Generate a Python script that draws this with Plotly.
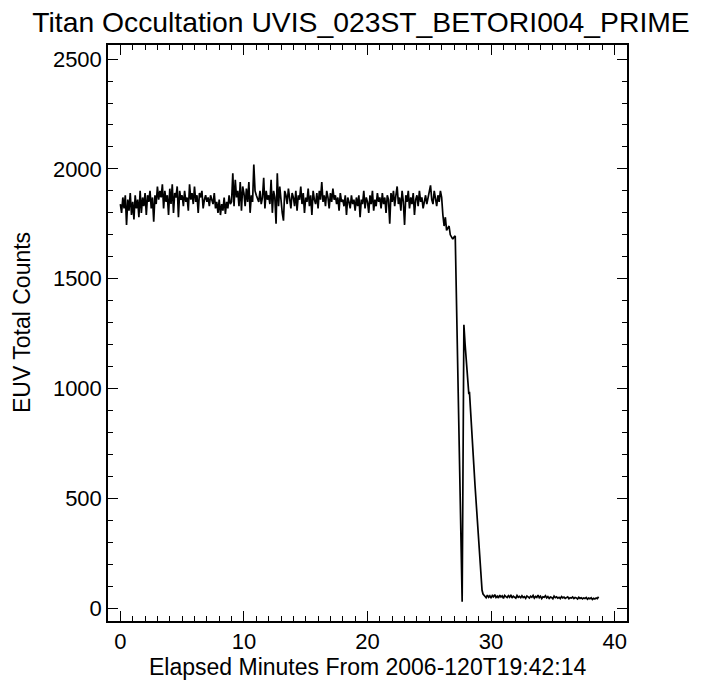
import numpy as np
import plotly.graph_objects as go

# Baseline (unocculted) counts, sampled every 0.1 min from 0.0 to 27.1
base_counts = [
    1840, 1800, 1870, 1820, 1880, 1745, 1860, 1810, 1890, 1790,
    1850, 1770, 1880, 1820, 1860, 1780, 1900, 1800, 1870, 1830,
    1890, 1790, 1880, 1850, 1900, 1820, 1870, 1760, 1880, 1840,
    1920, 1860, 1900, 1870, 1930, 1820, 1900, 1850, 1880, 1790,
    1910, 1840, 1930, 1800, 1890, 1870, 1920, 1780, 1900, 1860,
    1880, 1830, 1900, 1850, 1870, 1810, 1930, 1860, 1890, 1840,
    1920, 1850, 1880, 1800, 1890, 1870, 1900, 1820, 1860, 1880,
    1850, 1870, 1830, 1880, 1860, 1840, 1890, 1820, 1850, 1800,
    1860, 1790, 1840, 1810, 1870, 1795, 1850, 1820, 1880, 1840,
    1850, 1980, 1830, 1950, 1870, 1900, 1830, 1940, 1810, 1920,
    1890, 1830, 1910, 1850, 1940, 1800, 1880, 1850, 2020, 1900,
    1880, 1860, 1850, 1900, 1840, 1870, 1960, 1820, 1900, 1860,
    1880, 1840, 1950, 1800, 1900, 1870, 1750, 1980, 1830, 1920,
    1850, 1800, 1764, 1900, 1880, 1840, 1910, 1870, 1820, 1890,
    1870, 1830, 1900, 1810, 1880, 1860, 1920, 1840, 1890, 1800,
    1870, 1850, 1910, 1830, 1880, 1790, 1900, 1860, 1840, 1890,
    1820, 1900, 1860, 1940, 1850, 1880, 1830, 1900, 1870, 1820,
    1890, 1850, 1910, 1860, 1880, 1840, 1870, 1810, 1890, 1850,
    1860, 1830, 1880, 1790, 1870, 1850, 1820, 1880, 1840, 1860,
    1810, 1870, 1830, 1880, 1780, 1860, 1840, 1900, 1820, 1870,
    1850, 1800, 1880, 1840, 1900, 1810, 1860, 1830, 1890, 1850,
    1870, 1820, 1890, 1840, 1870, 1800, 1880, 1860, 1750, 1890,
    1850, 1900, 1830, 1880, 1920, 1840, 1870, 1810, 1900, 1850,
    1745, 1880, 1850, 1900, 1820, 1870, 1840, 1890, 1790, 1860,
    1880, 1830, 1900, 1850, 1870, 1820, 1860, 1880, 1840, 1870,
    1890, 1925, 1860, 1840, 1900, 1870, 1830, 1880, 1850, 1900,
    1870, 1790, 1740, 1780, 1720, 1730, 1740, 1700, 1690, 1680,
    1690, 1695,
]
base_start_min = 0.0
sample_step_min = 0.1

# Occultation ingress (irregularly spaced samples)
ingress_minutes = [27.66, 27.8, 27.9, 28.0, 28.1, 28.2, 28.25, 28.3, 28.36, 28.4,
                   28.5, 28.6, 28.7, 28.8, 28.9, 29.0, 29.1, 29.2, 29.27, 29.35, 29.4]
ingress_counts = [30, 1290, 1200, 1110, 1030, 975, 985, 930, 860, 850,
                  760, 655, 560, 470, 385, 300, 210, 135, 82, 65, 60]

# Fully occulted tail, sampled every 0.1 min from 29.5
tail_start_min = 29.5
tail_counts = [
    55, 48, 60, 50, 57, 46, 58, 52, 62, 49,
    55, 47, 60, 51, 56, 45, 58, 53, 49, 57,
    50, 61, 47, 55, 52, 46, 58, 50, 54, 48,
    57, 49, 53, 45, 56, 51, 47, 55, 50, 58,
    46, 54, 49, 60, 48, 55, 44, 52, 50, 57,
    47, 53, 45, 51, 49, 43, 55, 48, 52, 46,
    50, 44, 53, 47, 51, 45, 49, 52, 43, 48,
    46, 51, 44, 49, 47, 42, 50, 45, 48, 43,
    47, 44, 49, 41, 46, 43, 48, 40, 45, 42,
    47, 44, 52,
]

title_text = "Titan Occultation UVIS_023ST_BETORI004_PRIME"
x_title = "Elapsed Minutes From 2006-120T19:42:14"
y_title = "EUV Total Counts"

t_base = base_start_min + sample_step_min * np.arange(len(base_counts))
t_tail = tail_start_min + sample_step_min * np.arange(len(tail_counts))
t = np.concatenate([t_base, np.array(ingress_minutes), t_tail])
c = np.concatenate([np.array(base_counts), np.array(ingress_counts), np.array(tail_counts)])

font_family = "Liberation Sans, Arial, Helvetica, sans-serif"

fig = go.Figure(go.Scatter(x=t, y=c, mode="lines",
                           line=dict(color="black", width=1.7),
                           hoverinfo="x+y", showlegend=False))

axis_common = dict(
    showline=True, linecolor="black", linewidth=1.5, mirror="ticks",
    ticks="inside", ticklen=10, tickwidth=1.3, tickcolor="black",
    showgrid=False, zeroline=False,
    tickfont=dict(family=font_family, size=22, color="black"),
)

fig.update_layout(
    width=722, height=686,
    paper_bgcolor="white", plot_bgcolor="white",
    margin=dict(l=108, r=95, t=45, b=65),
    title=dict(text=title_text, x=0.5, xanchor="center", y=1 - 22 / 686, yanchor="middle",
               font=dict(family=font_family, size=28.3, color="black")),
    xaxis=dict(range=[-1, 41], tickmode="linear", tick0=0, dtick=10,
               minor=dict(ticks="inside", dtick=1, tick0=0, ticklen=5, tickwidth=1.2, tickcolor="black"),
               **axis_common),
    yaxis=dict(range=[-58, 2564], tickmode="linear", tick0=0, dtick=500,
               minor=dict(ticks="inside", dtick=100, tick0=0, ticklen=5, tickwidth=1.2, tickcolor="black"),
               **axis_common),
    annotations=[
        dict(text=x_title, xref="paper", yref="paper", x=0.5, y=0,
             xanchor="center", yanchor="middle", yshift=-46, showarrow=False,
             font=dict(family=font_family, size=23, color="black")),
        dict(text=y_title, xref="paper", yref="paper", x=0, y=0.5,
             xanchor="center", yanchor="middle", xshift=-86, yshift=10, textangle=-90,
             showarrow=False,
             font=dict(family=font_family, size=23, color="black")),
    ],
)

# remove the default 8px page margin so the figure fills the window exactly
fig.write_html("out.html", config={"displayModeBar": False},
               post_script="document.body.style.margin='0px';")
